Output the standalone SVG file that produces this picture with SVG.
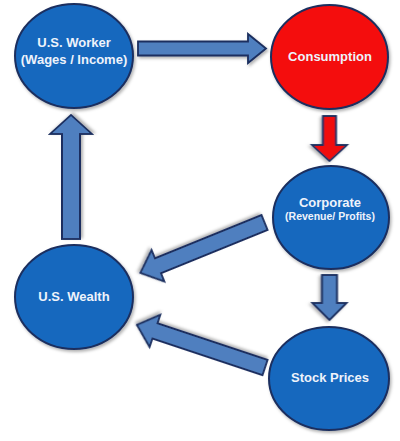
<svg xmlns="http://www.w3.org/2000/svg" width="400" height="441" viewBox="0 0 400 441">
<defs>
<filter id="sh" x="-20%" y="-20%" width="140%" height="140%">
<feDropShadow dx="1.5" dy="2" stdDeviation="1.5" flood-color="#000" flood-opacity="0.3"/>
</filter>
<style>
.node ellipse{fill:#1467BE;stroke:#1B2F5E;stroke-width:2;filter:url(#sh)}
.node.red ellipse{fill:#F40C0C}
.node text{font-family:"Liberation Sans",Arial,sans-serif;font-weight:bold;fill:#EEF3FB;text-anchor:middle;dominant-baseline:central}
.arr{fill:#4F7FBF;stroke:#1B2F5E;stroke-width:1.8;stroke-linejoin:miter;filter:url(#sh)}
.arr.red{fill:#F01010}
</style>
</defs>
<rect width="400" height="441" fill="#FFFFFF"/>
<g id="connectors">
<polygon class="arr" transform="translate(138,48.5)" points="0,-7 110,-7 110,-14.5 128,0 110,14.5 110,7 0,7"/>
<polygon class="arr red" transform="translate(329.5,116) rotate(90)" points="0,-6.5 29,-6.5 29,-17.5 45,0 29,17.5 29,6.5 0,6.5"/>
<polygon class="arr" transform="translate(71,239) rotate(-90)" points="0,-9 105,-9 105,-21 124,0 105,21 105,9 0,9"/>
<polygon class="arr" transform="translate(329.5,275) rotate(90)" points="0,-7.5 28,-7.5 28,-17 45,0 28,17 28,7.5 0,7.5"/>
<polygon class="arr" transform="translate(264.5,222.5) rotate(157.9)" points="0,-8 115,-8 115,-17 134,0 115,17 115,8 0,8"/>
<polygon class="arr" transform="translate(265,367.5) rotate(198.4)" points="0,-8 116,-8 116,-17 135,0 116,17 116,8 0,8"/>
</g>
<g id="worker" class="node">
<ellipse cx="74" cy="56" rx="59" ry="52"/>
<text x="74" y="42" font-size="13">U.S. Worker</text>
<text x="74" y="59.5" font-size="13">(Wages / Income)</text>
</g>
<g id="consumption" class="node red">
<ellipse cx="329.5" cy="57" rx="58.5" ry="52"/>
<text x="330" y="56" font-size="13">Consumption</text>
</g>
<g id="corporate" class="node">
<ellipse cx="331" cy="217.5" rx="58" ry="51.5"/>
<text x="330" y="202" font-size="13">Corporate</text>
<text x="330" y="216" font-size="10.5">(Revenue/ Profits)</text>
</g>
<g id="wealth" class="node">
<ellipse cx="74" cy="297" rx="59" ry="52"/>
<text x="74" y="296" font-size="13">U.S. Wealth</text>
</g>
<g id="stock" class="node">
<ellipse cx="329" cy="378.5" rx="60" ry="51.5"/>
<text x="330" y="377" font-size="13">Stock Prices</text>
</g>
</svg>
